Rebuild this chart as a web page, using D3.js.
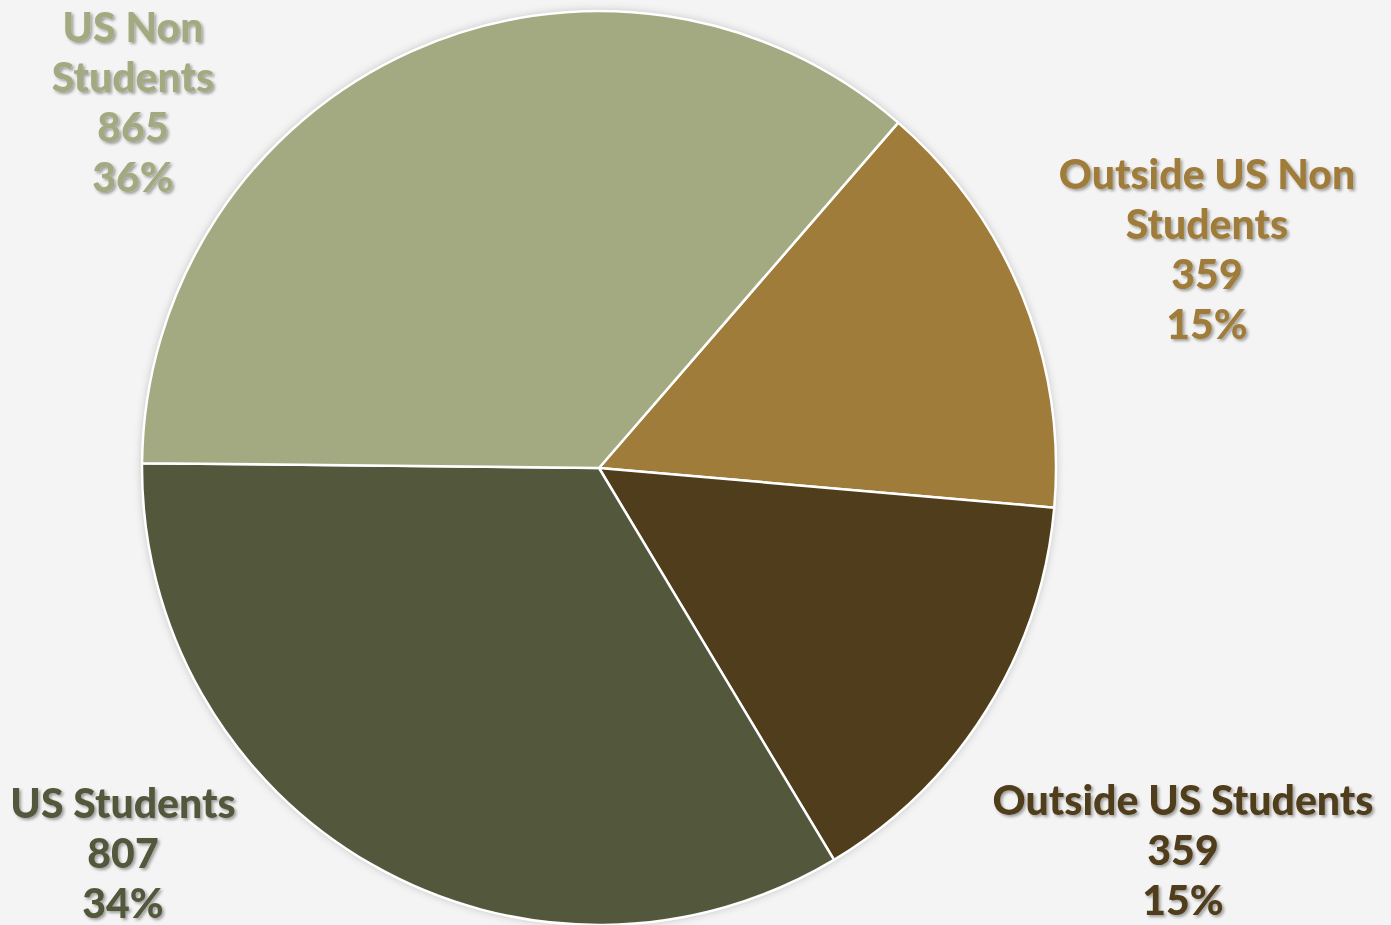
<!DOCTYPE html>
<html>
<head>
<meta charset="utf-8">
<script src="https://cdn.jsdelivr.net/npm/d3@7"></script>
<style>
  html, body { margin: 0; padding: 0; background: #f4f4f4; }
  svg { display: block; }
  .lbl { font-family: "Lato", "DejaVu Sans", sans-serif; font-weight: 900; font-size: 41px; }
</style>
</head>
<body>
<div id="app"></div>
<script>
var categories = ['Outside US Non Students', 'Outside US Students', 'US Students', 'US Non Students'];
var values = [359, 359, 807, 865];
var percents = ['15%', '15%', '34%', '36%'];
var labelLines = [['Outside US Non', 'Students'], ['Outside US Students'], ['US Students'], ['US Non', 'Students']];
var colors = ['#a07c3a', '#4f3d1c', '#53583d', '#a3a980'];

var width = 1391, height = 925,
    cx = 599, cy = 468, radius = 457;

// where each label block sits (center x, first baseline y)
var labelPos = [[1207, 189], [1183, 815], [123, 818], [133, 42]];
var lineH = 50;

var svg = d3.select('#app').append('svg').attr('width', width).attr('height', height);

var defs = svg.append('defs');
var f = defs.append('filter').attr('id', 'shadow').attr('x', '-10%').attr('y', '-10%').attr('width', '120%').attr('height', '140%');
f.append('feDropShadow').attr('dx', 2).attr('dy', 2).attr('stdDeviation', 1.8)
  .attr('flood-color', '#000').attr('flood-opacity', 0.35);

var pieShadow = defs.append('filter').attr('id', 'pieShadow').attr('x', '-10%').attr('y', '-10%').attr('width', '120%').attr('height', '120%');
pieShadow.append('feDropShadow').attr('dx', 0).attr('dy', 0).attr('stdDeviation', 4)
  .attr('flood-color', '#000').attr('flood-opacity', 0.25);

var start = 40.9 * Math.PI / 180;
var pie = d3.pie().sort(null).value(function (d) { return d; })
  .startAngle(start).endAngle(start + 2 * Math.PI);
var arc = d3.arc().innerRadius(0).outerRadius(radius);

var g = svg.append('g').attr('transform', 'translate(' + cx + ',' + cy + ')');

g.append('circle').attr('r', radius).attr('fill', '#f4f4f4').attr('filter', 'url(#pieShadow)');

g.selectAll('path').data(pie(values)).enter().append('path')
  .attr('d', arc)
  .attr('fill', function (d, i) { return colors[i]; })
  .attr('stroke', '#fff').attr('stroke-width', 2.5).attr('stroke-linejoin', 'round');

categories.forEach(function (c, i) {
  var lines = labelLines[i].concat([d3.format(',')(values[i]), percents[i]]);
  var t = svg.append('text').attr('class', 'lbl')
    .attr('text-anchor', 'middle')
    .attr('fill', colors[i])
    .attr('filter', 'url(#shadow)');
  lines.forEach(function (s, j) {
    t.append('tspan').attr('x', labelPos[i][0]).attr('y', labelPos[i][1] + j * lineH).text(s);
  });
});
</script>
</body>
</html>
